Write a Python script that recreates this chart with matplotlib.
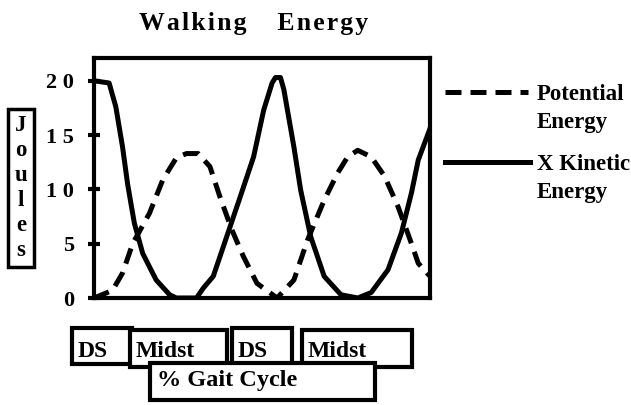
import matplotlib
matplotlib.use("Agg")
import matplotlib.pyplot as plt
from matplotlib.lines import Line2D
from matplotlib.patches import Rectangle

# % gait cycle vs energy (J)
pot_x = [0, 5.5, 8.5, 11.5, 16.5, 20.5, 24.5, 27.5, 31, 34.5, 37.5, 41, 44.5, 48.5,
         54.5, 59.5, 63.5, 68.5, 72.5, 75.5, 78.5, 82.5, 86.5, 90.5, 94.5, 96.5, 100]
pot_y = [0, 0.7, 2.3, 5, 7.8, 10.9, 12.9, 13.3, 13.3, 12.1, 9.3, 6.3, 3.8, 1.35,
         0, 1.66, 5.3, 9, 11.5, 13, 13.6, 13, 11.2, 8.4, 5, 3.2, 2]
kin_x = [0, 4.5, 6.5, 8.5, 10, 12, 14.5, 18.5, 22.5, 24.5, 30.5, 32.5, 35.5, 39.5,
         43.5, 47.5, 50.5, 53, 54, 55.5, 56.5, 59.5, 61.5, 64.5, 68.5, 73.5, 78.5,
         82.5, 87.5, 91.5, 94.5, 96.5, 100]
kin_y = [20, 19.8, 17.6, 13.9, 10.5, 6.9, 4.1, 1.66, 0.3, 0, 0, 0.9, 2, 5.65,
         9.3, 13, 17.3, 19.8, 20.3, 20.3, 19.2, 13.9, 9.95, 5.65, 2, 0.3, 0,
         0.5, 2.6, 6, 9.7, 12.7, 15.6]
yticks = [0, 5, 10, 15, 20]
ytick_labels = ['0', '5', '1 0', '1 5', '2 0']
phase_boxes = [('DS', 72, 328, 132, 364), ('Midst', 130, 330, 227, 367),
               ('DS', 232, 328, 292, 364), ('Midst', 302, 330, 412, 367)]

W, H = 631, 405
serif = ['Liberation Serif', 'DejaVu Serif']
plt.rcParams['font.family'] = serif
plt.rcParams['font.weight'] = 'bold'

fig = plt.figure(figsize=(W / 100, H / 100), dpi=100)
ax = fig.add_axes([94 / W, 1 - 298 / H, (430 - 94) / W, (298 - 58) / H])

ax.plot(pot_x, pot_y, color='black', lw=3.6, ls=(0, (3.2, 1.8)), solid_capstyle='butt')
ax.plot(kin_x, kin_y, color='black', lw=3.6)

ax.set_xlim(0, 100)
ax.set_ylim(0, 22.1)
ax.set_xticks([])
ax.set_yticks(yticks)
ax.set_yticklabels(ytick_labels, fontsize=16, fontweight='bold')
ax.tick_params(axis='y', direction='inout', length=9, width=3, pad=10)
for s in ax.spines.values():
    s.set_linewidth(3)


def px(x, y):
    return x / W, 1 - y / H


# title is letter-spaced in the original
sp = '\u200a'
title = sp.join('Walking') + '\u2003\u2009' + sp.join('Energy')
fig.text(*px(254, 30), title, fontsize=18.5, fontweight='bold',
         ha='center', va='baseline')

# y label: stacked letters in a box
fig.text(*px(21, 188), 'J\no\nu\nl\ne\ns', fontsize=16.5, fontweight='bold',
         ha='center', va='center', linespacing=1.24,
         bbox=dict(boxstyle='square,pad=0.3', fc='white', ec='black', lw=2.5))

# legend drawn by hand to keep the line on the first text row
fig.add_artist(Line2D([445 / W, 528 / W], [1 - 92 / H] * 2, color='black', lw=3.6,
                      ls=(0, (3.2, 1.8)), transform=fig.transFigure))
fig.add_artist(Line2D([445 / W, 530 / W], [1 - 162 / H] * 2, color='black', lw=3.6,
                      transform=fig.transFigure))
fig.text(*px(537, 84), 'Potential\nEnergy', fontsize=16.5, fontweight='bold',
         ha='left', va='top', linespacing=1.45)
fig.text(*px(537, 154), 'X Kinetic\nEnergy', fontsize=16.5, fontweight='bold',
         ha='left', va='top', linespacing=1.45)

for label, x0, y0, x1, y1 in phase_boxes:
    fig.add_artist(Rectangle(px(x0, y1), (x1 - x0) / W, (y1 - y0) / H, fc='white',
                             ec='black', lw=3, transform=fig.transFigure))
    fig.text(*px(x0 + 6, 357), label, fontsize=17, fontweight='bold',
             ha='left', va='baseline')

fig.add_artist(Rectangle(px(150, 400), (375 - 150) / W, (400 - 363) / H, fc='white',
                         ec='black', lw=3, transform=fig.transFigure))
fig.text(*px(157, 386), '% Gait Cycle', fontsize=17.5, fontweight='bold',
         ha='left', va='baseline')

fig.savefig('out.png', dpi=100)
